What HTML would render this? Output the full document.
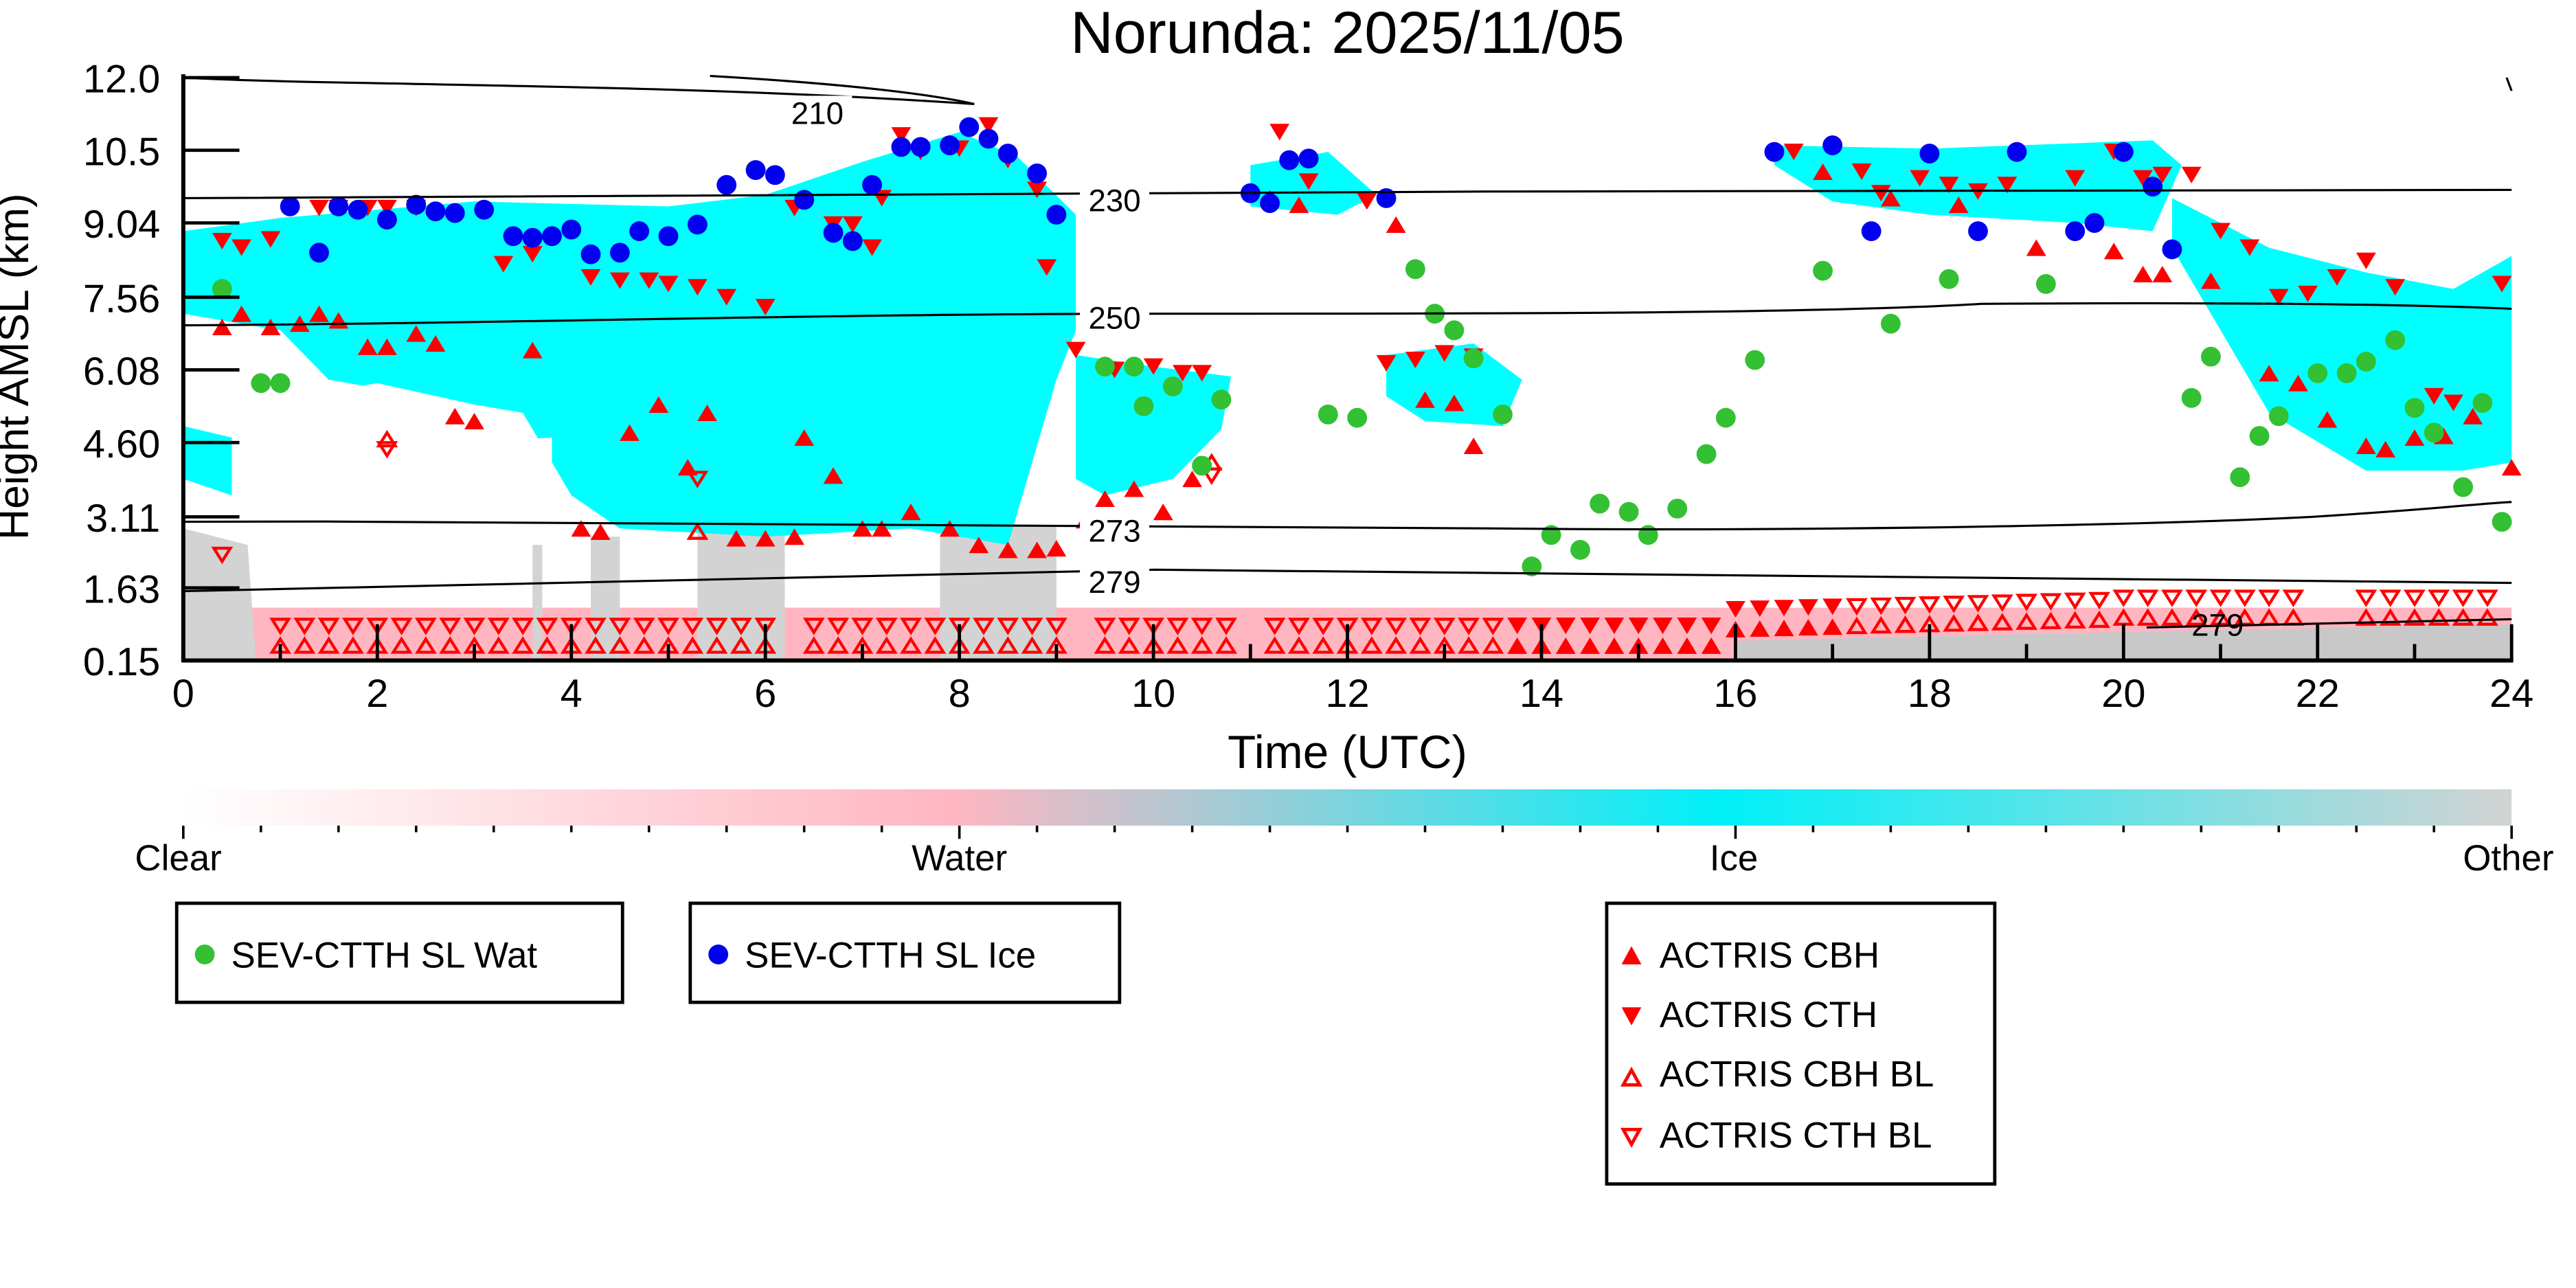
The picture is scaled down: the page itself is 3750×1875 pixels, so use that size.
<!DOCTYPE html>
<html><head><meta charset="utf-8"><style>html,body{margin:0;padding:0;background:#fff}svg{display:block}text{font-family:"Liberation Sans",sans-serif}</style></head>
<body>
<svg id="s" width="3750" height="1875" viewBox="0 0 1560 780" xmlns="http://www.w3.org/2000/svg">
<defs>
<linearGradient id="cb" x1="0" x2="1" y1="0" y2="0">
<stop offset="0" stop-color="#ffffff"/><stop offset="0.33" stop-color="#ffb6c1"/><stop offset="0.66" stop-color="#00f0f8"/><stop offset="1" stop-color="#d3d3d3"/>
</linearGradient>
</defs>
<text x="816" y="32" font-size="36" text-anchor="middle">Norunda: 2025/11/05</text>
<g id="data"></g>
<g id="cont" fill="none" stroke="#000" stroke-width="1.3">
<path d="M111,47 C200,52 400,50 590,63"/>
<path d="M430,46 C500,50 560,56 590,63"/>
<path d="M111,120 C300,118 600,119 900,116 C1200,116 1400,115 1521,115"/>
<path d="M111,197 C300,196 500,190 700,190 C900,190 1100,190 1200,184 C1350,183 1450,184 1521,187"/>
<path d="M111,316 C400,315 700,318 900,320 C1100,322 1300,318 1400,313 C1480,308 1500,305 1521,304"/>
<path d="M111,358 C300,354 500,350 700,345 C900,347 1200,349 1521,353"/>
<path d="M1300,380 L1521,375"/>
<path d="M1518,47 L1521,55"/>
</g>
<g font-size="19" text-anchor="middle">
<rect x="474" y="58" width="42" height="20" fill="#fff"/><text x="495" y="75">210</text>
<rect x="654" y="110" width="42" height="20" fill="#fff"/><text x="675" y="128">230</text>
<rect x="654" y="181" width="42" height="20" fill="#fff"/><text x="675" y="199">250</text>
<rect x="654" y="310" width="42" height="20" fill="#fff"/><text x="675" y="328">273</text>
<rect x="654" y="341" width="42" height="20" fill="#fff"/><text x="675" y="359">279</text>
<text x="1343" y="385">279</text>
</g>
<g stroke="#000" stroke-width="2.5">
<line x1="111" y1="45" x2="111" y2="401"/>
<line x1="110" y1="400" x2="1522" y2="400"/>
</g>
<g id="ticks" stroke="#000" stroke-width="2"></g>
<g font-size="24" text-anchor="end">
<text x="97" y="56">12.0</text><text x="97" y="100">10.5</text><text x="97" y="144">9.04</text><text x="97" y="189">7.56</text><text x="97" y="233">6.08</text><text x="97" y="277">4.60</text><text x="97" y="322">3.11</text><text x="97" y="365">1.63</text><text x="97" y="409">0.15</text>
</g>
<g font-size="24" text-anchor="middle" id="xl"></g>
<text x="816" y="465" font-size="28" text-anchor="middle">Time (UTC)</text>
<text transform="translate(17,222) rotate(-90)" font-size="26" text-anchor="middle">Height AMSL (km)</text>
<rect x="111" y="478" width="1410" height="22" fill="url(#cb)"/>
<g id="cbt" stroke="#000" stroke-width="1.5"></g>
<g font-size="22" text-anchor="middle"><text x="108" y="527">Clear</text><text x="581" y="527">Water</text><text x="1050" y="527">Ice</text><text x="1519" y="527">Other</text></g>
<g stroke="#000" stroke-width="2" fill="none">
<rect x="107" y="547" width="270" height="60"/><rect x="418" y="547" width="260" height="60"/><rect x="973" y="547" width="235" height="170"/>
</g>
<g font-size="22">
<circle cx="124" cy="578" r="6" fill="#33c033"/><text x="140" y="586">SEV-CTTH SL Wat</text>
<circle cx="435" cy="578" r="6" fill="#0000ee"/><text x="451" y="586">SEV-CTTH SL Ice</text>
<polygon points="982,584 994,584 988,573" fill="red"/><text x="1005" y="586">ACTRIS CBH</text>
<polygon points="982,610 994,610 988,621" fill="red"/><text x="1005" y="622">ACTRIS CTH</text>
<polygon points="983,657 993,657 988,648" fill="none" stroke="red" stroke-width="2"/><text x="1005" y="658">ACTRIS CBH BL</text>
<polygon points="983,684 993,684 988,693" fill="none" stroke="red" stroke-width="2"/><text x="1005" y="695">ACTRIS CTH BL</text>
</g>
<script>
var NS="http://www.w3.org/2000/svg",d=document.getElementById('data');
function X(t){return 111+t*58.75}
function el(n,a,p){var e=document.createElementNS(NS,n);for(var k in a)e.setAttribute(k,a[k]);(p||d).appendChild(e);return e}
el('rect',{x:111,y:368,width:1410,height:32,fill:'#ffb6c1'});
el('polygon',{points:'111,320 150,330 155,400 111,400',fill:'#d3d3d3'});
[[5.3,6.2,322],[7.8,9.0,318],[4.2,4.5,325],[3.6,3.7,330]].forEach(function(g){el('rect',{x:X(g[0]),y:g[2],width:X(g[1])-X(g[0]),height:400-g[2],fill:'#d3d3d3'})});
el('polygon',{points:X(16)+',388 '+X(19)+',384 '+X(24)+',378 '+X(24)+',400 '+X(16)+',400',fill:'#c8c8c8'});
var C='#00ffff';
var polys=[
[[0,140],[1,132],[3,122],[5,125],[6,118],[7,98],[8,80],[8.6,95],[9.2,130],[9.2,200],[9,230],[8.5,330],[7.5,320],[6,325],[4.5,320],[4,300],[3.5,250],[2.5,240],[1.5,230],[1,200],[0.5,195],[0,190]],
[[9.2,215],[10,222],[10.8,228],[10.7,260],[10.2,290],[9.5,300],[9.2,290]],
[[11,100],[11.8,92],[12.3,118],[11.9,130],[11,125]],
[[12.4,215],[13.3,208],[13.8,230],[13.6,258],[12.8,255],[12.4,240]],
[[16.4,88],[18,90],[20.3,85],[20.6,100],[20.3,140],[19.5,135],[18,130],[17,122],[16.4,100]],
[[20.5,120],[21.5,150],[22.5,165],[23.4,175],[24,155],[24,280],[23.5,285],[22.5,285],[21.5,250],[21,200],[20.5,150]],
[[0,258],[0.5,265],[0.5,300],[0,290]]];
polys.forEach(function(p){el('polygon',{points:p.map(function(q){return X(q[0])+','+q[1]}).join(' '),fill:C})});
[[[1.2,240],[2,232],[3,245],[3,300],[1.5,285]],[[2.2,270],[3.8,265],[3.8,300],[2.2,295]],[[0.6,210],[1,215],[1.1,300],[0.6,300]]].forEach(function(p){el('polygon',{points:p.map(function(q){return X(q[0])+','+q[1]}).join(' '),fill:'#fff'})});
function tri(t,y,up,fill){var x=X(t),h=10,w=6;var pts=up?[x-w,y+h/2,x+w,y+h/2,x,y-h/2]:[x-w,y-h/2,x+w,y-h/2,x,y+h/2];
 var a={points:pts.join(','),fill:fill?'red':'none'};if(!fill){a.stroke='red';a['stroke-width']=1.8;a.points=(up?[x-5,y+4,x+5,y+4,x,y-4]:[x-5,y-4,x+5,y-4,x,y+4]).join(',')}el('polygon',a)}
for(var t=1.0;t<24;t+=0.25){if((t>6.0&&t<6.3)||(t>9.05&&t<9.3)||(t>10.8&&t<11.2)||(t>21.9&&t<22.4))continue;var fl=(t>13.7&&t<17.2);var y=t<16?385:(t<20?375-(t-16)*1.5:368);
 tri(t,y-6,false,fl);tri(t,y+6,true,fl);}
tri(0.4,336,false,false);tri(2.1,266,true,false);tri(2.1,272,false,false);tri(5.3,290,false,false);tri(5.3,322,true,false);tri(10.6,280,true,false);tri(10.6,288,false,false);
var down=[[0.4,146],[0.6,150],[0.9,145],[1.4,126],[1.6,126],[1.9,126],[2.1,126],[2.4,126],[3.3,160],[3.6,154],[4.2,168],[4.5,170],[4.8,170],[5.0,172],[5.3,174],[5.6,180],[6.0,186],[6.3,126],[6.7,136],[6.9,136],[7.1,150],[7.2,120],[7.4,82],[7.6,92],[8.0,90],[8.3,76],[8.5,97],[8.8,115],[8.9,162],[9.2,212],[9.6,224],[10.0,222],[10.3,226],[10.5,226],[11.3,80],[11.6,110],[12.2,122],[12.4,220],[12.7,218],[13.0,214],[13.3,216],[16.6,92],[17.3,104],[17.5,117],[17.9,108],[18.2,112],[18.5,116],[18.8,112],[19.5,108],[19.9,92],[20.2,108],[20.4,106],[20.7,106],[21.0,140],[21.3,150],[21.6,180],[21.9,178],[22.2,168],[22.5,158],[22.8,174],[23.2,240],[23.4,244],[23.9,172]];
down.forEach(function(p){tri(p[0],p[1],false,true)});
var up=[[0.4,198],[0.6,190],[0.9,198],[1.2,196],[1.4,190],[1.6,194],[1.9,210],[2.1,210],[2.4,202],[2.6,208],[2.8,252],[3.0,255],[3.6,212],[4.1,320],[4.3,322],[4.6,262],[4.9,245],[5.2,283],[5.4,250],[5.7,326],[6.0,326],[6.3,325],[6.4,265],[6.7,288],[7.0,320],[7.2,320],[7.5,310],[7.9,320],[8.2,330],[8.5,333],[8.8,333],[9.0,332],[9.3,315],[9.5,302],[9.8,296],[10.1,310],[10.4,290],[11.2,120],[11.5,124],[12.5,136],[12.8,242],[13.1,244],[13.3,270],[16.9,104],[17.6,120],[18.3,124],[19.1,150],[19.9,152],[20.2,166],[20.4,166],[20.9,170],[21.5,226],[21.8,232],[22.1,254],[22.5,270],[22.7,272],[23.0,265],[23.3,264],[23.6,252],[24,283]];
up.forEach(function(p){tri(p[0],p[1],true,true)});
var gw=[[0.4,175],[0.8,232],[1.0,232],[9.5,222],[9.8,222],[9.9,246],[10.2,234],[10.5,282],[10.7,242],[11.8,251],[12.1,253],[12.7,163],[12.9,190],[13.1,200],[13.3,217],[13.6,251],[13.9,343],[14.1,324],[14.4,333],[14.6,305],[14.9,310],[15.1,324],[15.4,308],[15.7,275],[15.9,253],[16.2,218],[16.9,164],[17.6,196],[18.2,169],[19.2,172],[20.7,241],[20.9,216],[21.2,289],[21.4,264],[21.6,252],[22.0,226],[22.3,226],[22.5,219],[22.8,206],[23.0,247],[23.2,262],[23.5,295],[23.7,244],[23.9,316]];
gw.forEach(function(p){el('circle',{cx:X(p[0]),cy:p[1],r:6,fill:'#33c033'})});
var bl=[[1.1,125],[1.4,153],[1.6,125],[1.8,127],[2.1,133],[2.4,124],[2.6,128],[2.8,129],[3.1,127],[3.4,143],[3.6,144],[3.8,143],[4.0,139],[4.2,154],[4.5,153],[4.7,140],[5.0,143],[5.3,136],[5.6,112],[5.9,103],[6.1,106],[6.4,121],[6.7,141],[6.9,146],[7.1,112],[7.4,89],[7.6,89],[7.9,88],[8.1,77],[8.3,84],[8.5,93],[8.8,105],[9.0,130],[11.0,117],[11.2,123],[11.4,97],[11.6,96],[12.4,120],[16.4,92],[17.0,88],[17.4,140],[18.0,93],[18.5,140],[18.9,92],[19.5,140],[19.7,135],[20.0,92],[20.3,113],[20.5,151]];
bl.forEach(function(p){el('circle',{cx:X(p[0]),cy:p[1],r:6,fill:'#0000ee'})});
var tk=document.getElementById('ticks');
[47,91,135,180,224,268,313,356].forEach(function(y){el('line',{x1:111,y1:y,x2:145,y2:y},tk)});
for(var i=0;i<=24;i++){var L=i%2==0?22:10;el('line',{x1:X(i),y1:400,x2:X(i),y2:400-L},tk)}
var xl=document.getElementById('xl');for(var i=0;i<=24;i+=2){var e=el('text',{x:X(i),y:428},xl);e.textContent=i}
var cbt=document.getElementById('cbt');for(var i=0;i<=30;i++){var x=111+i*1410/30;el('line',{x1:x,y1:500,x2:x,y2:i%10==0?508:504},cbt)}
</script>
</svg>
</body></html>
